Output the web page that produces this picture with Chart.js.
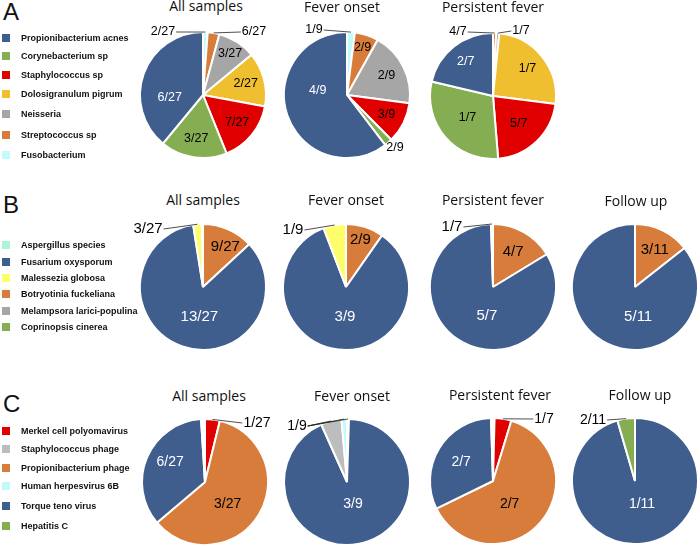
<!DOCTYPE html>
<html>
<head>
<meta charset="utf-8">
<script src="https://cdn.jsdelivr.net/npm/chart.js@4.4.1/dist/chart.umd.min.js"></script>
<style>
  body { margin: 0; width: 700px; height: 546px; position: relative; overflow: hidden; background: #fff; font-family: "Liberation Sans", Arial, sans-serif; }
  canvas.pie { position: absolute; }
  .title { position: absolute; font-family: "Open Sans", sans-serif; font-size: 14px; line-height: 1; color: #111; transform: translateX(-50%); white-space: nowrap; }
  .letter { position: absolute; left: 3px; font-size: 24px; line-height: 1; color: #111; }
  .item { position: absolute; left: 0; height: 10px; font-size: 9px; font-weight: bold; line-height: 10px; white-space: nowrap; color: #111; }
  .item span { position: absolute; left: 2px; top: 1px; width: 8px; height: 8px; }
  .item b { position: absolute; left: 21px; top: 0; }
</style>
</head>
<body>
<script>
'use strict'

// legend categories and colours
const blue = '#3f5e8e'
const bacteria = ['Propionibacterium acnes', 'Corynebacterium sp', 'Staphylococcus sp', 'Dolosigranulum pigrum', 'Neisseria', 'Streptococcus sp', 'Fusobacterium']
const bacteriaColors = [blue, '#85ad51', '#e00000', '#f0bf2f', '#a6a6a6', '#d77c3a', '#c4fafa']
const fungi = ['Aspergillus species', 'Fusarium oxysporum', 'Malessezia globosa', 'Botryotinia fuckeliana', 'Melampsora larici-populina', 'Coprinopsis cinerea']
const fungiColors = ['#aaf5d6', blue, '#fefe6a', '#d77c3a', '#a6a6a6', '#85ad51']
const viruses = ['Merkel cell polyomavirus', 'Staphylococcus phage', 'Propionibacterium phage', 'Human herpesvirus 6B', 'Torque teno virus', 'Hepatitis C']
const virusColors = ['#e00000', '#bdbdbd', '#d77c3a', '#c4fafa', blue, '#85ad51']

// slices, clockwise from 12 o'clock (percent of pie)
const aAllSlices = ['Fusobacterium', 'Streptococcus sp', 'Neisseria', 'Dolosigranulum pigrum', 'Staphylococcus sp', 'Corynebacterium sp', 'Propionibacterium acnes']
const aAllValues = [1.2, 3.0, 9.8, 13.9, 16.0, 17.1, 39.0]
const aAllText = ['2/27', '6/27', '3/27', '2/27', '7/27', '3/27', '6/27']

const aOnsetSlices = ['Fusobacterium', 'Streptococcus sp', 'Neisseria', 'Staphylococcus sp', 'Corynebacterium sp', 'Propionibacterium acnes']
const aOnsetValues = [2.0, 6.1, 19.0, 10.5, 2.0, 60.4]
const aOnsetText = ['1/9', '2/9', '2/9', '3/9', '2/9', '4/9']

const aPersistSlices = ['Streptococcus sp', 'Neisseria', 'Dolosigranulum pigrum', 'Staphylococcus sp', 'Corynebacterium sp', 'Propionibacterium acnes']
const aPersistValues = [0.8, 0.8, 25.4, 21.7, 30.0, 21.3]
const aPersistText = ['4/7', '1/7', '1/7', '5/7', '1/7', '2/7']

const bAllSlices = ['Botryotinia fuckeliana', 'Fusarium oxysporum', 'Malessezia globosa', 'Aspergillus species']
const bAllValues = [13.1, 84.4, 2.2, 0.3]
const bAllText = ['9/27', '13/27', '3/27', '']

const bOnsetSlices = ['Botryotinia fuckeliana', 'Fusarium oxysporum', 'Malessezia globosa']
const bOnsetValues = [9.7, 84.5, 5.8]
const bOnsetText = ['2/9', '3/9', '1/9']

const bPersistSlices = ['Botryotinia fuckeliana', 'Fusarium oxysporum', 'Aspergillus species']
const bPersistValues = [16.3, 83.2, 0.5]
const bPersistText = ['4/7', '5/7', '1/7']

const bFollowSlices = ['Botryotinia fuckeliana', 'Fusarium oxysporum']
const bFollowValues = [14.4, 85.6]
const bFollowText = ['3/11', '5/11']

const cAllSlices = ['Merkel cell polyomavirus', 'Propionibacterium phage', 'Torque teno virus', 'Staphylococcus phage', 'Human herpesvirus 6B']
const cAllValues = [3.8, 60.0, 35.2, 0.5, 0.5]
const cAllText = ['1/27', '3/27', '6/27', '', '']

const cOnsetSlices = ['Propionibacterium phage', 'Torque teno virus', 'Staphylococcus phage', 'Human herpesvirus 6B']
const cOnsetValues = [0.5, 92.8, 5.3, 1.4]
const cOnsetText = ['1/9', '3/9', '1/9', '1/9']

const cPersistSlices = ['Human herpesvirus 6B', 'Merkel cell polyomavirus', 'Propionibacterium phage', 'Torque teno virus', 'Staphylococcus phage']
const cPersistValues = [0.4, 4.3, 63.1, 31.7, 0.5]
const cPersistText = ['', '1/7', '2/7', '2/7', '']

const cFollowSlices = ['Torque teno virus', 'Hepatitis C']
const cFollowValues = [95.5, 4.5]
const cFollowText = ['1/11', '2/11']

// layout: pie centres, label font sizes, outside labels [dx, dy] and inside overrides [deg, radius factor]
const A = {names: bacteria, colors: bacteriaColors, size: 12.5}
const B = {names: fungi, colors: fungiColors, size: 15}
const C = {names: viruses, colors: virusColors, size: 14}
const pies = [
  {...A, x: 203, y: 95, slices: aAllSlices, values: aAllValues, text: aAllText,
    out: {0: [-40, -63], 1: [51, -63]}, at: {2: [33, 0.79], 6: [265, 0.53]}},
  {...A, x: 347, y: 95, slices: aOnsetSlices, values: aOnsetValues, text: aOnsetText,
    out: {0: [-33, -65], 4: [48, 53, 0]}, at: {1: [18, 0.8], 5: [278, 0.47]}},
  {...A, x: 493, y: 96, slices: aPersistSlices, values: aPersistValues, text: aPersistText,
    out: {0: [-35, -64], 1: [28, -65]}, at: {3: [137, 0.6], 4: [230, 0.53]}},
  {...B, x: 203, y: 287, slices: bAllSlices, values: bAllValues, text: bAllText,
    out: {2: [-55, -58]}, at: {0: [29, 0.73], 1: [187, 0.47]}},
  {...B, x: 346, y: 287, slices: bOnsetSlices, values: bOnsetValues, text: bOnsetText,
    out: {2: [-53, -57]}, at: {0: [17, 0.78], 1: [182, 0.47]}},
  {...B, x: 493, y: 287, slices: bPersistSlices, values: bPersistValues, text: bPersistText,
    out: {2: [-41, -60]}, at: {0: [30, 0.64], 1: [192, 0.47]}},
  {...B, x: 635, y: 287, slices: bFollowSlices, values: bFollowValues, text: bFollowText,
    out: {}, at: {0: [28, 0.67], 1: [174, 0.48]}},
  {...C, x: 205, y: 482, slices: cAllSlices, values: cAllValues, text: cAllText,
    out: {0: [52, -59]}, at: {1: [134, 0.5], 2: [300, 0.64]}},
  {...C, x: 347, y: 482, slices: cOnsetSlices, values: cOnsetValues, text: cOnsetText,
    out: {0: [-50, -56], 2: [-50, -56], 3: [-50, -56]}, at: {1: [165, 0.37]}},
  {...C, x: 493, y: 481, slices: cPersistSlices, values: cPersistValues, text: cPersistText,
    out: {1: [51, -62]}, at: {2: [144, 0.45], 3: [301, 0.59]}},
  {...C, x: 635, y: 481, slices: cFollowSlices, values: cFollowValues, text: cFollowText,
    out: {1: [-42, -61]}, at: {0: [163, 0.38]}}
]

const titles = [
  ['All samples', 206, -1], ['Fever onset', 342, 0], ['Persistent fever', 493, 0],
  ['All samples', 203, 193], ['Fever onset', 346, 193], ['Persistent fever', 493, 193], ['Follow up', 636, 194],
  ['All samples', 209, 389], ['Fever onset', 352, 389], ['Persistent fever', 500, 388], ['Follow up', 640, 388]
]
const letters = [['A', 0], ['B', 193], ['C', 392]]
const legends = [
  [bacteria, bacteriaColors, [38, 56, 75, 94, 114, 135, 155]],
  [fungi, fungiColors, [245, 262, 278, 294, 311, 327]],
  [viruses, virusColors, [431, 449, 468, 486, 506, 526]]
]

function makeLabels(p) {
  return {
    id: 'sliceLabels',
    afterDatasetsDraw(chart) {
      const ctx = chart.ctx
      const meta = chart.getDatasetMeta(0)
      const drawn = {}
      ctx.save()
      ctx.font = `${p.size}px "Liberation Sans", Arial, sans-serif`
      ctx.textAlign = 'center'
      ctx.textBaseline = 'middle'
      meta.data.forEach((arc, i) => {
        const t = p.text[i]
        if (!t) return
        const {x, y, startAngle, endAngle, outerRadius} = arc.getProps(['x', 'y', 'startAngle', 'endAngle', 'outerRadius'], true)
        const mid = (startAngle + endAngle) / 2
        const out = p.out[i]
        if (out) {
          const lx = x + out[0], ly = y + out[1]
          const w = ctx.measureText(t).width
          if (out[2] !== 0) {
            const sx = out[0] < 0 ? lx + w / 2 + 1 : lx - w / 2 - 1
            ctx.strokeStyle = '#222'
            ctx.lineWidth = 0.8
            ctx.beginPath()
            ctx.moveTo(sx, ly)
            ctx.lineTo(x + outerRadius * Math.cos(mid), y + outerRadius * Math.sin(mid))
            ctx.stroke()
          }
          const key = out[0] + ',' + out[1]
          if (!drawn[key]) {
            ctx.fillStyle = '#000'
            ctx.fillText(t, lx, ly)
            drawn[key] = true
          }
          return
        }
        const at = p.at[i]
        const a = at ? (at[0] - 90) * Math.PI / 180 : mid
        const rf = at ? at[1] : 0.7
        const color = p.colors[p.names.indexOf(p.slices[i])]
        ctx.fillStyle = color === blue ? '#fff' : '#000'
        ctx.fillText(t, x + outerRadius * rf * Math.cos(a), y + outerRadius * rf * Math.sin(a))
      })
      ctx.restore()
    }
  }
}

// draw pies
for (const p of pies) {
  const canvas = document.createElement('canvas')
  canvas.className = 'pie'
  canvas.width = 170
  canvas.height = 150
  canvas.style.left = (p.x - 85) + 'px'
  canvas.style.top = (p.y - 75) + 'px'
  document.body.appendChild(canvas)

  new Chart(canvas, {
    type: 'pie',
    data: {
      labels: p.slices,
      datasets: [{
        data: p.values,
        backgroundColor: p.slices.map(n => p.colors[p.names.indexOf(n)]),
        borderColor: '#fff',
        borderWidth: 2
      }]
    },
    options: {
      responsive: false,
      animation: false,
      radius: 63,
      events: [],
      layout: {padding: 0},
      plugins: {legend: {display: false}, tooltip: {enabled: false}}
    },
    plugins: [makeLabels(p)]
  })
}

// titles, panel letters, legends
for (const [t, x, y] of titles) {
  const d = document.createElement('div')
  d.className = 'title'
  d.textContent = t
  d.style.left = x + 'px'
  d.style.top = y + 'px'
  document.body.appendChild(d)
}
for (const [t, y] of letters) {
  const d = document.createElement('div')
  d.className = 'letter'
  d.textContent = t
  d.style.top = y + 'px'
  document.body.appendChild(d)
}
for (const [names, colors, ys] of legends) {
  names.forEach((n, i) => {
    const d = document.createElement('div')
    d.className = 'item'
    d.style.top = (ys[i] - 5) + 'px'
    d.innerHTML = `<span style="background:${colors[i]}"></span><b>${n}</b>`
    document.body.appendChild(d)
  })
}
</script>
</body>
</html>
